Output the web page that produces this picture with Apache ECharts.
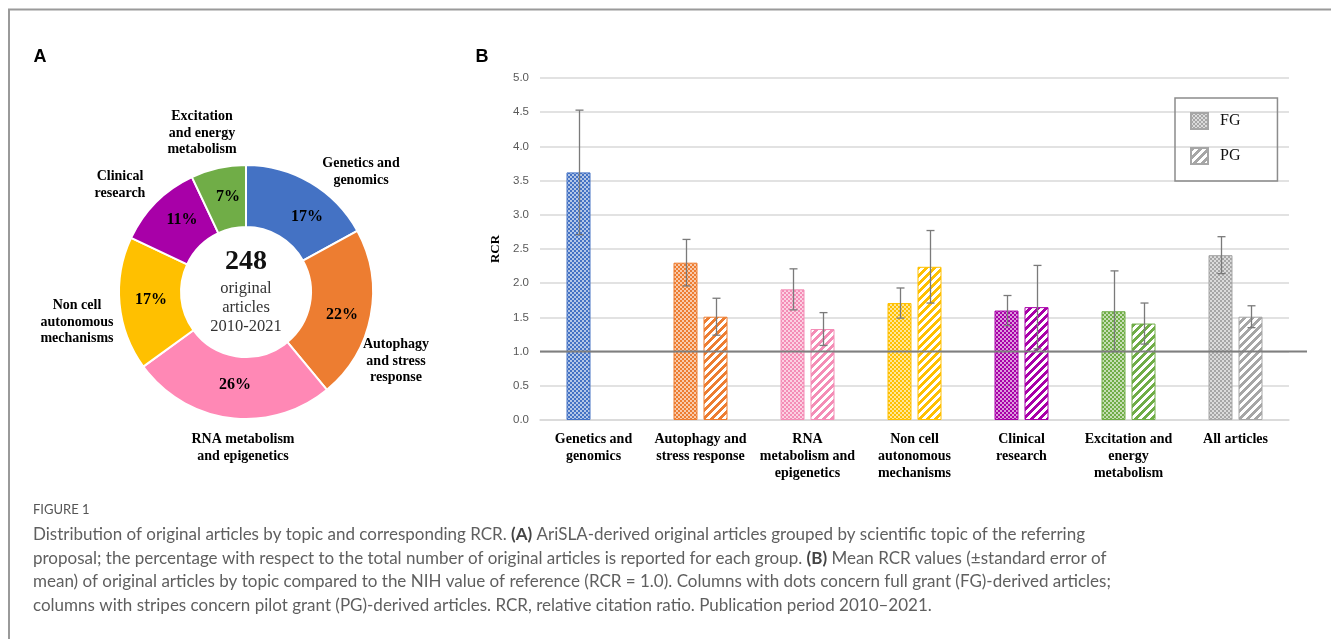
<!DOCTYPE html>
<html>
<head>
<meta charset="utf-8">
<script src="https://cdn.jsdelivr.net/npm/echarts@6/dist/echarts.min.js"></script>
<style>
html,body{margin:0;padding:0;background:#fff;}
#main{width:1331px;height:639px;}
</style>
</head>
<body>
<div id="main"></div>
<script>
// ---- Data ----
const pieTopics = ['Genetics and\ngenomics', 'Autophagy\nand stress\nresponse', 'RNA metabolism\nand epigenetics', 'Non cell\nautonomous\nmechanisms', 'Clinical\nresearch', 'Excitation\nand energy\nmetabolism'];
const pieShare = [17, 22, 26, 17, 11, 7];
const totalArticles = 248;

const categories = ['Genetics and\ngenomics', 'Autophagy and\nstress response', 'RNA\nmetabolism and\nepigenetics', 'Non cell\nautonomous\nmechanisms', 'Clinical\nresearch', 'Excitation and\nenergy\nmetabolism', 'All articles'];
const fgMean = [3.62, 2.30, 1.91, 1.71, 1.60, 1.59, 2.41];
const fgErr  = [0.91, 0.34, 0.30, 0.22, 0.22, 0.59, 0.27];
const pgMean = [null, 1.51, 1.33, 2.24, 1.65, 1.41, 1.51];
const pgErr  = [null, 0.27, 0.24, 0.53, 0.61, 0.30, 0.16];
const referenceRCR = 1.0;
const yTicks = [0, 0.5, 1.0, 1.5, 2.0, 2.5, 3.0, 3.5, 4.0, 4.5, 5.0];

// ---- Styles ----
const pieColors = ['#4472C4', '#ED7D31', '#FF88B5', '#FFC000', '#A800A8', '#70AD47'];
const barColors = ['#4472C4', '#ED7D31', '#F48DB6', '#FFC000', '#A800A8', '#70AD47', '#A6A6A6'];
const pieInnerLabelPos = [[307, 217], [342, 315], [235, 385], [151, 300], [182, 220], [228, 197]];
const pieOuterLabelPos = [[361, 172], [396, 361], [243, 448], [77, 322], [120, 185], [202, 133]];

function hexToRgb(h) {
  h = h.replace('#', '');
  return [parseInt(h.substr(0, 2), 16), parseInt(h.substr(2, 2), 16), parseInt(h.substr(4, 2), 16)];
}
function mix(h, t) {
  const c = hexToRgb(h);
  return 'rgb(' + c.map(v => Math.round(v + (255 - v) * t)).join(',') + ')';
}
function dots(color) {
  const cv = document.createElement('canvas');
  cv.width = 4; cv.height = 4;
  const g = cv.getContext('2d');
  g.fillStyle = mix(color, 0.6);
  g.fillRect(0, 0, 4, 4);
  g.fillStyle = color;
  g.fillRect(0, 0, 2, 2);
  g.fillRect(2, 2, 2, 2);
  return { image: cv, repeat: 'repeat' };
}
function stripes(color) {
  const cv = document.createElement('canvas');
  cv.width = 8; cv.height = 8;
  const g = cv.getContext('2d');
  g.fillStyle = '#ffffff';
  g.fillRect(0, 0, 8, 8);
  g.fillStyle = color;
  for (let x = 0; x < 8; x++) for (let y = 0; y < 8; y++) {
    if ((x + y) % 8 < 4) g.fillRect(x, y, 1, 1);
  }
  return { image: cv, repeat: 'repeat' };
}

const fgData = fgMean.map((v, i) => ({ value: v, itemStyle: { color: dots(barColors[i]), borderColor: barColors[i], borderWidth: 1 } }));
const pgData = pgMean.map((v, i) => ({ value: v, itemStyle: { color: stripes(barColors[i]), borderColor: barColors[i], borderWidth: 1 } }));
const errData = [];
fgMean.forEach((v, i) => { if (v != null) errData.push([i, v - fgErr[i], v + fgErr[i], -1]); });
pgMean.forEach((v, i) => { if (v != null) errData.push([i, v - pgErr[i], v + pgErr[i], 1]); });

const serif = 'Liberation Serif';
const chart = echarts.init(document.getElementById('main'), null, { renderer: 'canvas' });

const captionLines = [
  'Distribution of original articles by topic and corresponding RCR. {b|(A)} AriSLA-derived original articles grouped by scientific topic of the referring',
  'proposal; the percentage with respect to the total number of original articles is reported for each group. {b|(B)} Mean RCR values (\u00B1standard error of',
  'mean) of original articles by topic compared to the NIH value of reference (RCR = 1.0). Columns with dots concern full grant (FG)-derived articles;',
  'columns with stripes concern pilot grant (PG)-derived articles. RCR, relative citation ratio. Publication period 2010\u20132021.'
];
const capFont = 'Lato';
const capSize = 17;
const graphics = [
  { type: 'polyline', shape: { points: [[9, 639], [9, 9.5], [1331, 9.5]] }, style: { stroke: '#9a9a9a', lineWidth: 2, fill: null }, z: 10 },
  { type: 'text', x: 40, y: 57, style: { text: 'A', fontFamily: 'Liberation Sans', fontWeight: 'bold', fontSize: 18, fill: '#000', align: 'center', verticalAlign: 'middle' } },
  { type: 'text', x: 482, y: 57, style: { text: 'B', fontFamily: 'Liberation Sans', fontWeight: 'bold', fontSize: 18, fill: '#000', align: 'center', verticalAlign: 'middle' } },
  { type: 'text', x: 246, y: 262, style: { text: String(totalArticles), fontFamily: serif, fontWeight: 'bold', fontSize: 28, fill: '#111', align: 'center', verticalAlign: 'middle' } },
  { type: 'text', x: 246, y: 288.5, style: { text: 'original', fontFamily: serif, fontSize: 16.5, fill: '#333', align: 'center', verticalAlign: 'middle' } },
  { type: 'text', x: 246, y: 307.5, style: { text: 'articles', fontFamily: serif, fontSize: 16.5, fill: '#333', align: 'center', verticalAlign: 'middle' } },
  { type: 'text', x: 246, y: 326.5, style: { text: '2010-2021', fontFamily: serif, fontSize: 16.5, fill: '#333', align: 'center', verticalAlign: 'middle' } },
  { type: 'text', x: 33, y: 510, style: { text: 'FIGURE 1', fontFamily: capFont, fontSize: 13, fill: '#555', align: 'left', verticalAlign: 'middle' } }
];
captionLines.forEach((t, k) => {
  graphics.push({ type: 'text', x: 33, y: 535 + k * 23.5, style: {
    text: t, fontFamily: capFont, fontSize: capSize, fill: '#5f5f5f', align: 'left', verticalAlign: 'middle',
    rich: { b: { fontFamily: capFont, fontSize: capSize, fontWeight: 'bold', fill: '#444' } }
  } });
});

const option = {
  animation: false,
  backgroundColor: '#fff',
  graphic: graphics,
  legend: {
    data: ['FG', 'PG'],
    orient: 'vertical',
    left: 1175, top: 98,
    itemWidth: 17, itemHeight: 16, itemGap: 17,
    padding: [14, 37, 16, 15],
    borderColor: '#8c8c8c', borderWidth: 1.5,
    icon: 'rect',
    textStyle: { fontFamily: serif, fontSize: 16, color: '#111', padding: [0, 0, 0, 7] }
  },
  grid: [
    { left: 540, right: 42, top: 78, bottom: 219 },
    { left: 540, right: 24, top: 78, bottom: 219 }
  ],
  xAxis: [
    { type: 'category', gridIndex: 0, data: categories,
      axisTick: { show: false },
      axisLine: { show: true, lineStyle: { color: '#d9d9d9', width: 1.5 } },
      axisLabel: { interval: 0, margin: 11, fontFamily: serif, fontWeight: 'bold', fontSize: 14, lineHeight: 17, color: '#000', verticalAlign: 'top' } },
    { type: 'value', gridIndex: 1, min: 0, max: 1, show: false }
  ],
  yAxis: [
    { type: 'value', gridIndex: 0, min: yTicks[0], max: yTicks[yTicks.length - 1], interval: yTicks[1] - yTicks[0],
      name: 'RCR', nameLocation: 'middle', nameGap: 37, nameRotate: 90,
      nameTextStyle: { fontFamily: serif, fontWeight: 'bold', fontSize: 13, color: '#000' },
      axisLine: { show: false }, axisTick: { show: false },
      axisLabel: { margin: 11, fontFamily: 'Liberation Sans', fontSize: 11.5, color: '#595959', formatter: v => v.toFixed(1) },
      splitLine: { lineStyle: { color: '#d9d9d9', width: 1.5 } } },
    { type: 'value', gridIndex: 1, min: yTicks[0], max: yTicks[yTicks.length - 1], show: false }
  ],
  series: [
    {
      type: 'pie', name: 'topics', center: [246, 292], radius: [65, 127], startAngle: 90, clockwise: true,
      itemStyle: { borderColor: '#fff', borderWidth: 2 },
      label: { show: true, position: 'inside', formatter: '{d}%', fontFamily: serif, fontWeight: 'bold', fontSize: 16, color: '#000' },
      labelLayout: p => ({ x: pieInnerLabelPos[p.dataIndex][0], y: pieInnerLabelPos[p.dataIndex][1], align: 'center', verticalAlign: 'middle' }),
      labelLine: { show: false },
      emphasis: { disabled: true },
      data: pieTopics.map((t, i) => ({ name: t, value: pieShare[i], itemStyle: { color: pieColors[i] } }))
    },
    {
      type: 'pie', name: 'topicNames', center: [246, 292], radius: [65, 127], startAngle: 90, clockwise: true, silent: true,
      itemStyle: { color: 'rgba(0,0,0,0)', borderWidth: 0 },
      label: { show: true, position: 'outside', alignTo: 'none', overflow: 'none', bleedMargin: 0, formatter: '{b}', fontFamily: serif, fontWeight: 'bold', fontSize: 14, lineHeight: 16.5, color: '#000', align: 'center' },
      labelLayout: p => ({ x: pieOuterLabelPos[p.dataIndex][0], y: pieOuterLabelPos[p.dataIndex][1], align: 'center', verticalAlign: 'middle' }),
      labelLine: { show: false },
      emphasis: { disabled: true },
      data: pieTopics.map((t, i) => ({ name: t, value: pieShare[i] }))
    },
    {
      type: 'bar', name: 'FG', xAxisIndex: 0, yAxisIndex: 0, barWidth: 24, barGap: '25%',
      itemStyle: { color: dots('#A6A6A6'), borderColor: '#A6A6A6', borderWidth: 1 },
      data: fgData, z: 2
    },
    {
      type: 'bar', name: 'PG', xAxisIndex: 0, yAxisIndex: 0, barWidth: 24, barGap: '25%',
      itemStyle: { color: stripes('#A6A6A6'), borderColor: '#A6A6A6', borderWidth: 1 },
      data: pgData, z: 2
    },
    {
      type: 'line', name: 'reference', xAxisIndex: 1, yAxisIndex: 1, symbol: 'none', silent: true,
      lineStyle: { color: '#7f7f7f', width: 2 },
      data: [[0, referenceRCR], [1, referenceRCR]], z: 4
    },
    {
      type: 'custom', name: 'error', xAxisIndex: 0, yAxisIndex: 0, silent: true, z: 5,
      renderItem: (params, api) => {
        const off = api.value(3) * 15;
        const top = api.coord([api.value(0), api.value(2)]);
        const bot = api.coord([api.value(0), api.value(1)]);
        const x = Math.round(top[0] + off) + 0.5;
        const st = { stroke: '#7a7a7a', lineWidth: 1.3 };
        return { type: 'group', children: [
          { type: 'line', shape: { x1: x, y1: top[1], x2: x, y2: bot[1] }, style: st },
          { type: 'line', shape: { x1: x - 4, y1: top[1], x2: x + 4, y2: top[1] }, style: st },
          { type: 'line', shape: { x1: x - 4, y1: bot[1], x2: x + 4, y2: bot[1] }, style: st }
        ] };
      },
      encode: { x: 0, y: [1, 2] },
      data: errData
    }
  ]
};
chart.setOption(option);
</script>
</body>
</html>
